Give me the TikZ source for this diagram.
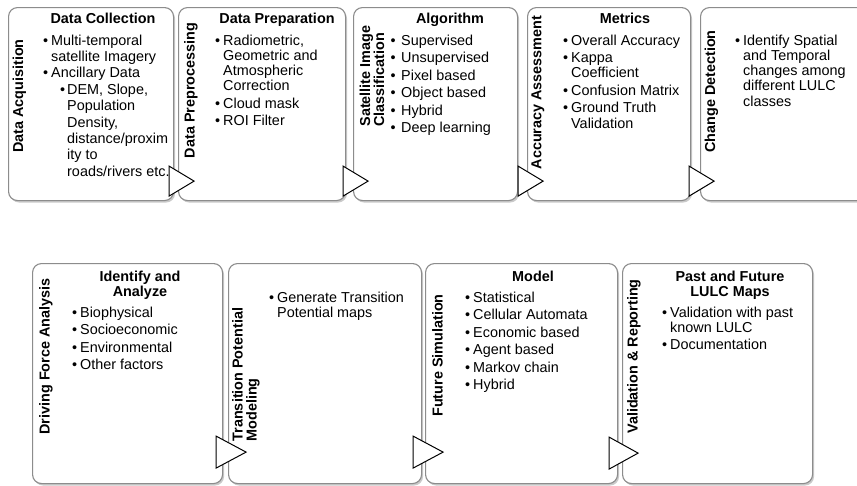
\documentclass[tikz,border=0pt]{standalone}
\usepackage{fontspec}
\setmainfont{Liberation Sans}
\usetikzlibrary{shadows}
\newcommand\bsz{\fontsize{14.4}{15.2}\selectfont}
\newcommand\asz{\fontsize{14.4}{16.4}\selectfont}
\newcommand\vsz{\fontsize{14.4}{14}\selectfont}
\newcommand\bu[1][3pt]{\strut\llap{\textbullet\hspace{#1}}}
\tikzset{
  box/.style={draw=black!45, line width=1.1pt, fill=white, rounded corners=9pt,
    drop shadow={shadow xshift=1.5pt, shadow yshift=-2pt, fill=black!35, opacity=.6},
    anchor=north west, inner sep=0},
  vlab/.style={rotate=90, font=\bfseries\vsz, align=left, inner sep=0},
  head/.style={font=\bfseries\bsz, align=center, inner sep=0, anchor=base},
  headn/.style={font=\bfseries\bsz, align=center, inner sep=0, anchor=north},
  lst/.style={font=\bsz, align=left, inner sep=0, anchor=north west},
  arr/.style={draw=black, line width=1pt, fill=white, line join=miter}
}
\begin{document}
\begin{tikzpicture}[x=1pt,y=-1pt]
\useasboundingbox (0,0) rectangle (857,485);
% boxes
\node[box, minimum width=165pt, minimum height=193pt] (b1) at (8,7) {};
\node[box, minimum width=167pt, minimum height=193pt] (b2) at (178,7) {};
\node[box, minimum width=164pt, minimum height=193pt] (b3) at (353,7) {};
\node[box, minimum width=163pt, minimum height=193pt] (b4) at (527,7) {};
\node[box, minimum width=170pt, minimum height=193pt] (b5) at (700,7) {};
\node[box, minimum width=190pt, minimum height=220pt] (b6) at (32,263) {};
\node[box, minimum width=193pt, minimum height=220pt] (b7) at (228,263) {};
\node[box, minimum width=192pt, minimum height=220pt] (b8) at (425,263) {};
\node[box, minimum width=190pt, minimum height=220pt] (b9) at (622,263) {};
% chevrons
\draw[arr] ([xshift=-5pt,yshift=35pt]b1.south east) -- ++(0,30) -- ++(25,-15) -- cycle;
\draw[arr] ([xshift=-3pt,yshift=35pt]b2.south east) -- ++(0,30) -- ++(25,-15) -- cycle;
\draw[arr] ([xshift=0pt,yshift=35pt]b3.south east) -- ++(0,30) -- ++(25,-15) -- cycle;
\draw[arr] ([xshift=-2pt,yshift=35pt]b4.south east) -- ++(0,30) -- ++(25,-15) -- cycle;
\draw[arr] ([xshift=-7pt,yshift=48pt]b6.south east) -- ++(0,32) -- ++(30,-16) -- cycle;
\draw[arr] ([xshift=-9pt,yshift=48pt]b7.south east) -- ++(0,32) -- ++(30,-16) -- cycle;
\draw[arr] ([xshift=-9pt,yshift=47pt]b8.south east) -- ++(0,32) -- ++(29,-16) -- cycle;
% box 1
\node[vlab] (v1) at (19.5,96) {Data Acquisition};
\node[head] (h1) at (103,23) {Data Collection};
\node[lst, font=\asz] (l1) at (51,33.5) {\bu Multi-temporal\\
satellite Imagery\\
\bu Ancillary Data\\
\hspace*{16pt}\bu[2pt]DEM, Slope,\\
\hspace*{16pt}Population\\
\hspace*{16pt}Density,\\
\hspace*{16pt}distance/proxim\\
\hspace*{16pt}ity to\\
\hspace*{16pt}roads/rivers etc.};
% box 2
\node[vlab] (v2) at (191,90.5) {Data Preprocessing};
\node[head] (h2) at (277,23) {Data Preparation};
\node[lst] (l2) at (223,34.4) {\bu Radiometric,\\ Geometric and\\ Atmospheric\\ Correction\\[2.3pt]
\bu Cloud mask\\[2.3pt] \bu ROI Filter};
% box 3
\node[vlab] (v3) at (372,76) {Satellite Image\\Classification};
\node[head] (h3) at (450,23) {Algorithm};
\node[lst] (l3) at (397,34.4) {\bu[1.5pt] Supervised\\[2.3pt] \bu[1.5pt] Unsupervised\\[2.3pt]
\bu[1.5pt] Pixel based\\[2.3pt] \bu[1.5pt] Object based\\[2.3pt] \bu[1.5pt] Hybrid\\[2.3pt]
\bu[1.5pt] Deep learning};
% box 4
\node[vlab] (v4) at (538,92.5) {Accuracy Assessment};
\node[head] (h4) at (625,23) {Metrics};
\node[lst] (l4) at (571,34.4) {\bu Overall Accuracy\\[2.3pt] \bu Kappa\\ Coefficient\\[2.3pt]
\bu Confusion Matrix\\[2.3pt] \bu Ground Truth\\ Validation};
% box 5
\node[vlab] (v5) at (711.5,91.5) {Change Detection};
\node[lst] (l5) at (743,34.4) {\bu Identify Spatial\\ and Temporal\\ changes among\\ different LULC\\ classes};
% box 6
\node[vlab] (v6) at (46,356.5) {Driving Force Analysis};
\node[headn] (h6) at (140,270.4) {\strut Identify and\\Analyze};
\node[lst] (l6) at (80,306.4) {\bu Biophysical\\[2.3pt] \bu Socioeconomic\\[2.3pt]
\bu Environmental\\[2.3pt] \bu Other factors};
% box 7
\node[vlab] (v7) at (246,374.6) {Transition Potential\\Modeling};
\node[lst] (l7) at (277,291.4) {\bu Generate Transition\\ Potential maps};
% box 8
\node[vlab] (v8) at (437.5,355.5) {Future Simulation};
\node[head] (h8) at (533,281) {Model};
\node[lst] (l8) at (473,291.4) {\bu Statistical\\[2.3pt] \bu Cellular Automata\\[2.3pt]
\bu Economic based\\[2.3pt] \bu Agent based\\[2.3pt] \bu Markov chain\\[2.3pt] \bu Hybrid};
% box 9
\node[vlab] (v9) at (634,356.5) {Validation \& Reporting};
\node[headn] (h9) at (730,270.4) {\strut Past and Future\\LULC Maps};
\node[lst] (l9) at (670,306.4) {\bu Validation with past\\ known LULC\\[2.3pt] \bu Documentation};
\end{tikzpicture}
\end{document}
